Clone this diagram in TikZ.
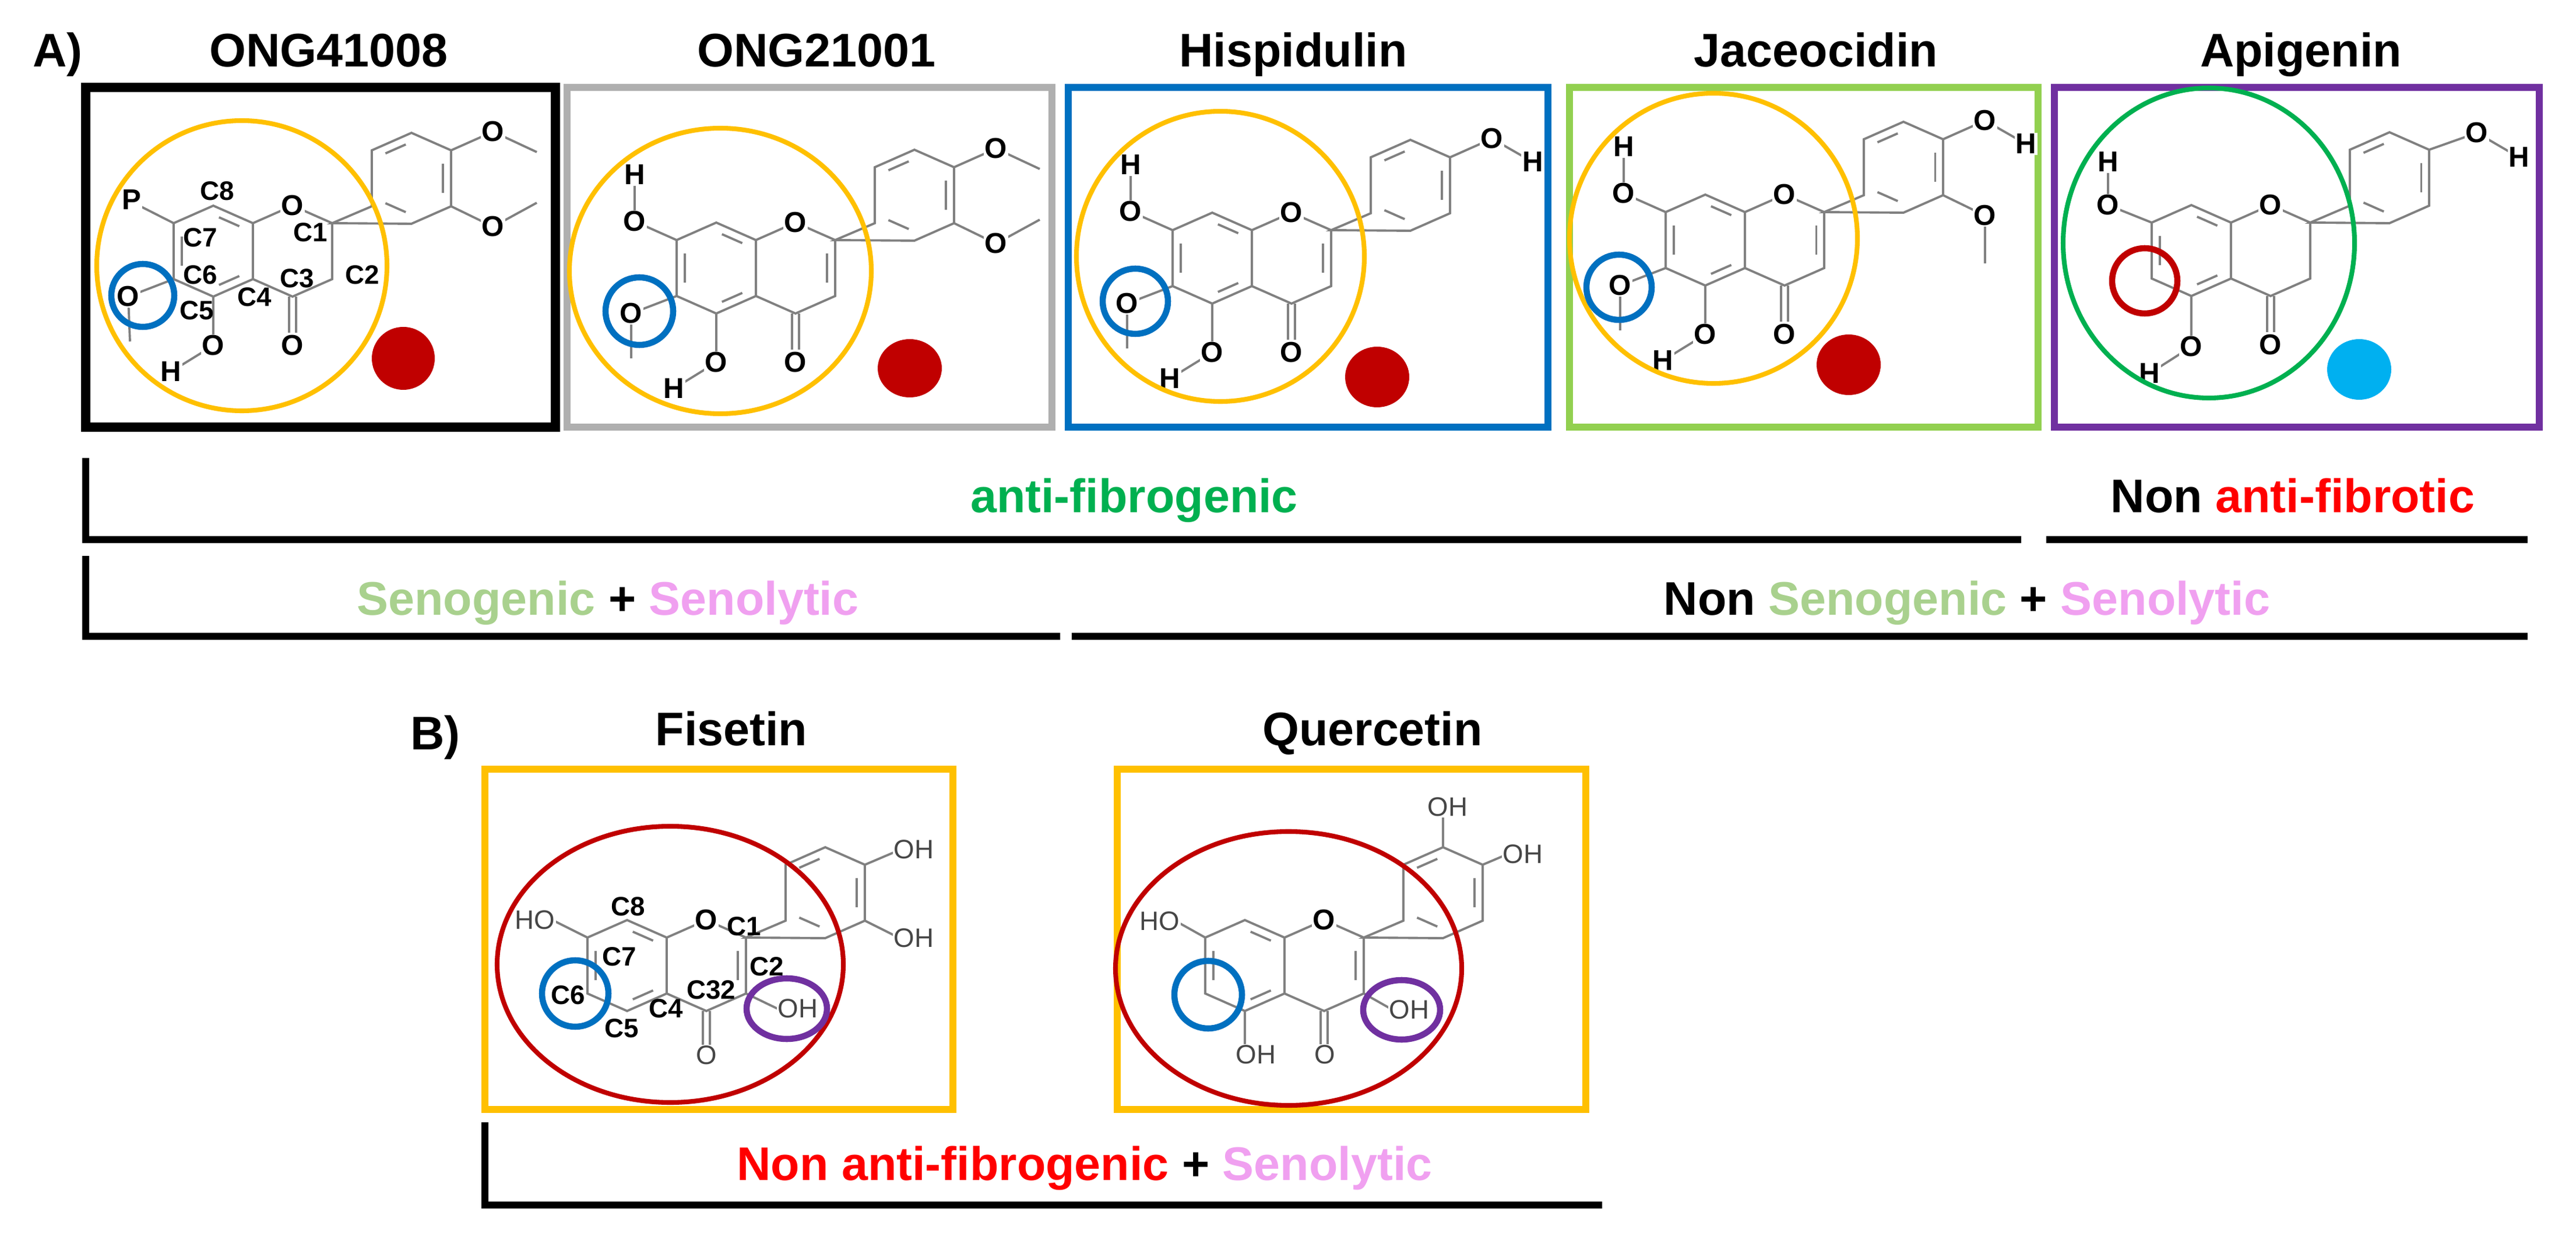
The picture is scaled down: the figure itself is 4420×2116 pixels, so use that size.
\documentclass[tikz,border=0pt]{standalone}
\usepackage{fontspec}
\setmainfont{Liberation Sans}
\usetikzlibrary{calc}
\definecolor{bgray}{RGB}{128,128,128}
\definecolor{boxgray}{RGB}{175,175,175}
\definecolor{mblue}{RGB}{0,112,192}
\definecolor{lgreen}{RGB}{146,208,80}
\definecolor{mpurple}{RGB}{112,48,160}
\definecolor{gold}{RGB}{255,192,0}
\definecolor{dred}{RGB}{192,0,0}
\definecolor{lblue}{RGB}{0,176,240}
\definecolor{mgreen}{RGB}{0,176,80}
\definecolor{seno}{RGB}{169,209,142}
\definecolor{senol}{RGB}{240,160,240}
\definecolor{txtgray}{RGB}{70,70,70}
\tikzset{
 bond/.style={bgray,line width=1.1pt},
 lab/.style={font=\bfseries\fontsize{14}{14}\selectfont,fill=white,inner sep=0.5pt},
 clab/.style={font=\bfseries\fontsize{13}{13}\selectfont,inner sep=0pt},
 glab/.style={font=\fontsize{13}{13}\selectfont,text=txtgray,fill=white,inner sep=0.5pt},
 title/.style={font=\bfseries\fontsize{23}{26}\selectfont,anchor=base},
 cbox/.style={line width=3.4pt},
 ring/.style={line width=2.3pt},
 brk/.style={line width=3.4pt},
}
\newcommand\db[3]{\draw[bond] ($($(#1)!.18!(#2)$)!.2!(#3)$) -- ($($(#2)!.18!(#1)$)!.2!(#3)$);}
% flavone core; #1 = 1 draws C2=C3 double bond
\newcommand\core[1]{%
 \coordinate (ac) at (0,0); \coordinate (cc) at (136,0); \coordinate (bc) at (340,-125);
 \coordinate (aT) at (0,-78); \coordinate (aUR) at (68,-48); \coordinate (aLR) at (68,48);
 \coordinate (aB) at (0,78); \coordinate (aLL) at (-68,48); \coordinate (aUL) at (-68,-48);
 \coordinate (cO) at (136,-78); \coordinate (cC2) at (204,-48); \coordinate (cC3) at (204,48); \coordinate (cC4) at (136,78);
 \coordinate (bLL) at (272,-77); \coordinate (bUL) at (272,-173); \coordinate (bT) at (340,-203);
 \coordinate (bUR) at (408,-173); \coordinate (bLR) at (408,-77); \coordinate (bB) at (340,-47);
 \draw[bond] (aT)--(aUR)--(aLR)--(aB)--(aLL)--(aUL)--cycle;
 \draw[bond] (aUR)--(cO)--(cC2)--(cC3)--(cC4)--(aLR);
 \draw[bond] (cC2)--(bLL)--(bUL)--(bT)--(bUR)--(bLR)--(bB)--cycle;
 \db{aT}{aUR}{ac}\db{aLR}{aB}{ac}\db{aUL}{aLL}{ac}
 \db{bUL}{bT}{bc}\db{bUR}{bLR}{bc}\db{bB}{bLL}{bc}
 \ifnum#1=1 \db{cC2}{cC3}{cc}\fi
 \draw[bond] (130,78)--(130,140) (142,78)--(142,140);
}
\newcommand\oxy{\node[lab] (oring) at (cO) {O};}
\begin{document}
\begin{tikzpicture}[x=0.01cm,y=-0.01cm]
\useasboundingbox[fill=white] (0,0) rectangle (4420,2116);
% titles
\node[title] (lA) at (99,115) {A)};
\node[title] (t1) at (564,115) {ONG41008};
\node[title] (t2) at (1401,115) {ONG21001};
\node[title] (t3) at (2219,115) {Hispidulin};
\node[title] (t4) at (3116,115) {Jaceocidin};
\node[title] (t5) at (3948,115) {Apigenin};
% boxes
\draw[cbox,black,line width=4.5pt] (147,150) rectangle (953,733);
\draw[cbox,boxgray] (973,150) rectangle (1805,733);
\draw[cbox,mblue] (1833,150) rectangle (2656,733);
\draw[cbox,lgreen] (2693,150) rectangle (3497,733);
\draw[cbox,mpurple] (3525,150) rectangle (4357,733);

% ---- ONG41008
\begin{scope}[shift={(366,431)}]
 \core{0}
 \draw[bond] (aUL)--(-135,-82);
 \draw[bond] (aLL)--(-146,78)--(-143,155);
 \draw[bond] (aB)--(0,162)--(-73,207);
 \draw[bond] (bUR)--(480,-205)--(555,-170);
 \draw[bond] (bLR)--(480,-42)--(555,-83);
 \oxy
 \node[lab] (p1) at (-140,-88) {P};
 \node[lab] (o1a) at (-146,78) {O};
 \node[lab] (o1b) at (0,162) {O};
 \node[lab] (h1b) at (-73,207) {H};
 \node[lab] (o1c) at (136,162) {O};
 \node[lab] (o1d) at (480,-205) {O};
 \node[lab] (o1e) at (480,-42) {O};
 \node[clab] (l8) at (7,-103) {C8};
 \node[clab] (l7) at (-22,-23) {C7};
 \node[clab] (l1) at (167,-32) {C1};
 \node[clab] (l6) at (-22,41) {C6};
 \node[clab] (l3) at (144,47) {C3};
 \node[clab] (l2) at (256,41) {C2};
 \node[clab] (l4) at (71,79) {C4};
 \node[clab] (l5) at (-28,102) {C5};
\end{scope}
\draw[ring,gold] (415,456) circle [radius=249];
\draw[ring,mblue,line width=3pt] (245,507) circle [radius=54];
\fill[dred] (692,615) circle [radius=54];

% ---- ONG21001
\begin{scope}[shift={(1229,460)}]
 \core{1}
 \draw[bond] (aUL)--(-140,-80)--(-140,-160);
 \draw[bond] (aLL)--(-146,78)--(-146,155);
 \draw[bond] (aB)--(0,162)--(-73,207);
 \draw[bond] (bUR)--(480,-205)--(555,-170);
 \draw[bond] (bLR)--(480,-42)--(555,-83);
 \oxy
 \node[lab] (o2h) at (-140,-80) {O}; \node[lab] (h2h) at (-140,-160) {H};
 \node[lab] (o2a) at (-146,78) {O};
 \node[lab] (o2b) at (0,162) {O}; \node[lab] (h2b) at (-73,207) {H};
 \node[lab] (o2c) at (136,162) {O};
 \node[lab] (o2d) at (480,-205) {O};
 \node[lab] (o2e) at (480,-42) {O};
\end{scope}
\draw[ring,gold] (1236,465) ellipse [x radius=259,y radius=245];
\draw[ring,mblue,line width=3pt] (1097,534) circle [radius=58];
\fill[dred] (1561,632) ellipse [x radius=55,y radius=50];

% ---- Hispidulin
\begin{scope}[shift={(2080,443)}]
 \core{1}
 \draw[bond] (aUL)--(-140,-80)--(-140,-160);
 \draw[bond] (aLL)--(-146,78)--(-146,155);
 \draw[bond] (aB)--(0,162)--(-73,207);
 \draw[bond] (bUR)--(480,-205)--(550,-165);
 \oxy
 \node[lab] (o3h) at (-140,-80) {O}; \node[lab] (h3h) at (-140,-160) {H};
 \node[lab] (o3a) at (-146,78) {O};
 \node[lab] (o3b) at (0,162) {O}; \node[lab] (h3b) at (-73,207) {H};
 \node[lab] (o3c) at (136,162) {O};
 \node[lab] (o3d) at (480,-205) {O}; \node[lab] (h3d) at (550,-165) {H};
\end{scope}
\draw[ring,gold] (2094,440) ellipse [x radius=247,y radius=249];
\draw[ring,mblue,line width=3pt] (1948,517) circle [radius=56];
\fill[dred] (2363,647) ellipse [x radius=55,y radius=52];

% ---- Jaceocidin
\begin{scope}[shift={(2926,412)}]
 \core{1}
 \draw[bond] (aUL)--(-140,-80)--(-140,-160);
 \draw[bond] (aLL)--(-146,78)--(-146,155);
 \draw[bond] (aB)--(0,162)--(-73,207);
 \draw[bond] (bUR)--(480,-205)--(550,-165);
 \draw[bond] (bLR)--(480,-42)--(480,40);
 \oxy
 \node[lab] (o4h) at (-140,-80) {O}; \node[lab] (h4h) at (-140,-160) {H};
 \node[lab] (o4a) at (-146,78) {O};
 \node[lab] (o4b) at (0,162) {O}; \node[lab] (h4b) at (-73,207) {H};
 \node[lab] (o4c) at (136,162) {O};
 \node[lab] (o4d) at (480,-205) {O}; \node[lab] (h4d) at (550,-165) {H};
 \node[lab] (o4e) at (480,-42) {O};
\end{scope}
\draw[ring,gold] (2940,409) ellipse [x radius=247,y radius=249];
\draw[ring,mblue,line width=3pt] (2778,493) circle [radius=56];
\fill[dred] (3172,626) ellipse [x radius=55,y radius=52];

% ---- Apigenin
\begin{scope}[shift={(3760,430)}]
 \core{0}
 \draw[bond] (aUL)--(-143,-78)--(-143,-152);
 \draw[bond] (aB)--(0,165)--(-72,211);
 \draw[bond] (bUR)--(490,-202)--(562,-160);
 \oxy
 \node[lab] (o5h) at (-143,-78) {O}; \node[lab] (h5h) at (-143,-152) {H};
 \node[lab] (o5b) at (0,165) {O}; \node[lab] (h5b) at (-72,211) {H};
 \node[lab] (o5c) at (136,162) {O};
 \node[lab] (o5d) at (490,-202) {O}; \node[lab] (h5d) at (562,-160) {H};
\end{scope}
\draw[ring,mgreen] (3790,417) ellipse [x radius=250,y radius=266];
\draw[ring,dred,line width=3pt] (3680,482) circle [radius=56];
\fill[lblue] (4048,634) ellipse [x radius=55,y radius=52];

% ---- brackets A
\draw[brk] (147,786)--(147,926)--(3468,926);
\draw[brk] (3511,926)--(4337,926);
\draw[brk] (147,954)--(147,1092)--(1819,1092);
\draw[brk] (1839,1092)--(4337,1092);
\node[title,text=mgreen] (af) at (1946,880) {anti-fibrogenic};
\node[title] (naf) at (3934,880) {Non \textcolor{red}{anti-fibrotic}};
\node[title] (ss) at (1043,1056) {\textcolor{seno}{Senogenic} + \textcolor{senol}{Senolytic}};
\node[title] (nss) at (3375,1056) {Non \textcolor{seno}{Senogenic} + \textcolor{senol}{Senolytic}};

% ---- B
\node[title] (lB) at (747,1287) {B)};
\node[title] (t6) at (1255,1280) {Fisetin};
\node[title] (t7) at (2355,1280) {Quercetin};
\draw[cbox,gold] (832,1320) rectangle (1635,1904);
\draw[cbox,gold] (1917,1320) rectangle (2721,1904);

% Fisetin
\begin{scope}[shift={(1076,1657)}]
 \core{1}
 \draw[bond] (aUL)--(-128,-78);
 \draw[bond] (cC3)--(258,74);
 \draw[bond] (bUR)--(462,-196);
 \draw[bond] (bLR)--(462,-50);
 \oxy
 \node[glab] (hoF) at (-158,-78) {HO};
 \node[glab] (ocF) at (136,154) {O};
 \node[glab] (ohF) at (293,74) {OH};
 \node[glab] (oh1F) at (492,-199) {OH};
 \node[glab] (oh2F) at (492,-47) {OH};
 \node[clab] (f8) at (2,-101) {C8};
 \node[clab] (f7) at (-13,-15) {C7};
 \node[clab] (f6) at (-101,51) {C6};
 \node[clab] (f5) at (-9,108) {C5};
 \node[clab] (f4) at (67,74) {C4};
 \node[clab] (f32) at (144,42) {C32};
 \node[clab] (f2) at (240,2) {C2};
 \node[clab] (f1) at (201,-67) {C1};
\end{scope}
\draw[ring,dred] (1150,1655) ellipse [x radius=297,y radius=237];
\draw[ring,mblue,line width=3pt] (987,1705) circle [radius=57];
\draw[ring,mpurple,line width=3pt] (1350,1731) ellipse [x radius=69,y radius=52];

% Quercetin
\begin{scope}[shift={(2136,1657)}]
 \core{1}
 \draw[bond] (aUL)--(-118,-76);
 \draw[bond] (aB)--(0,135);
 \draw[bond] (cC3)--(250,74);
 \draw[bond] (bT)--(340,-255);
 \draw[bond] (bUR)--(448,-190);
 \oxy
 \node[glab] (hoQ) at (-146,-76) {HO};
 \node[glab] (ohQ5) at (19,153) {OH};
 \node[glab] (ocQ) at (137,153) {O};
 \node[glab] (ohQ3) at (282,76) {OH};
 \node[glab] (ohQa) at (348,-272) {OH};
 \node[glab] (ohQb) at (477,-191) {OH};
\end{scope}
\draw[ring,dred] (2211,1662) ellipse [x radius=297,y radius=235];
\draw[ring,mblue,line width=3pt] (2073,1707) circle [radius=58];
\draw[ring,mpurple,line width=3pt] (2405,1733) ellipse [x radius=66,y radius=51];

\draw[brk] (832,1926)--(832,2068)--(2749,2068);
\node[title] (naf2) at (1861,2025) {\textcolor{red}{Non anti-fibrogenic} + \textcolor{senol}{Senolytic}};
\end{tikzpicture}
\end{document}
